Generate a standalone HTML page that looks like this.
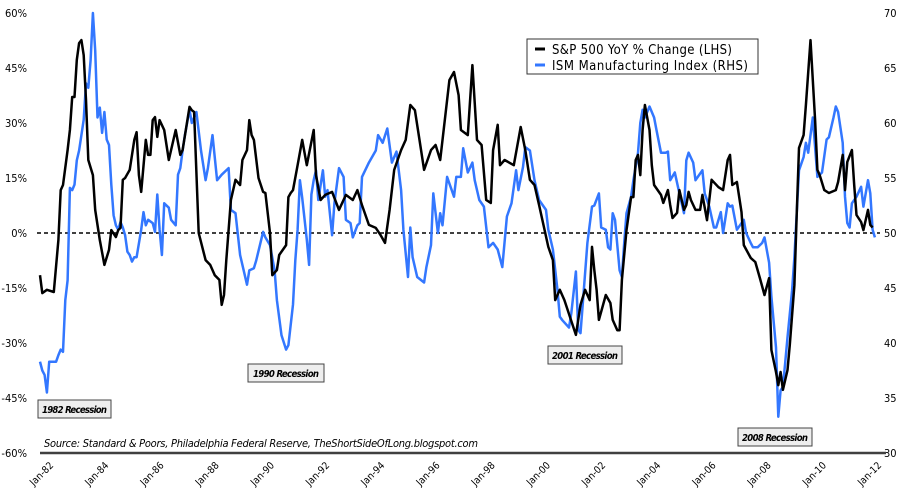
<!DOCTYPE html>
<html><head><meta charset="utf-8"><style>
body{margin:0;background:#fff;}
svg text{font-family:"DejaVu Sans Condensed","DejaVu Sans","Liberation Sans",sans-serif;}
</style></head><body>
<svg id="chart" width="909" height="498" viewBox="0 0 909 498" xmlns="http://www.w3.org/2000/svg">
<g id="axes"></g>
<g id="series"></g>
<g>
<rect x="527" y="39" width="231" height="35" fill="#fff" stroke="#333" stroke-width="1"/>
<line x1="535" y1="49" x2="545" y2="49" stroke="#000" stroke-width="3"/>
<text x="552" y="54" font-size="13" textLength="180">S&amp;P 500 YoY % Change (LHS)</text>
<line x1="535" y1="65" x2="545" y2="65" stroke="#3377ff" stroke-width="3"/>
<text x="552" y="70" font-size="13" textLength="196">ISM Manufacturing Index (RHS)</text>
</g>
<g font-size="9.5" font-style="italic" font-weight="bold">
<g><rect x="38" y="400" width="73" height="18" fill="#eee" stroke="#444"/><text x="42" y="413" textLength="65">1982 Recession</text></g>
<g><rect x="248" y="364" width="76" height="18" fill="#eee" stroke="#444"/><text x="253" y="377" textLength="66">1990 Recession</text></g>
<g><rect x="548" y="346" width="74" height="18" fill="#eee" stroke="#444"/><text x="552" y="359" textLength="66">2001 Recession</text></g>
<g><rect x="738" y="428" width="74" height="18" fill="#eee" stroke="#444"/><text x="742" y="441" textLength="66">2008 Recession</text></g>
</g>
<text x="44" y="447" font-size="11" font-style="italic" textLength="434">Source: Standard &amp; Poors, Philadelphia Federal Reserve, TheShortSideOfLong.blogspot.com</text>
</svg>
<script>
const leftTicks=[60,45,30,15,0,-15,-30,-45,-60];
const leftTickLabels=["60%","45%","30%","15%","0%","-15%","-30%","-45%","-60%"];
const rightTicks=[70,65,60,55,50,45,40,35,30];
const xTickLabels=["Jan-82","Jan-84","Jan-86","Jan-88","Jan-90","Jan-92","Jan-94","Jan-96","Jan-98","Jan-00","Jan-02","Jan-04","Jan-06","Jan-08","Jan-10","Jan-12"];
const xTickMonths=[0,24,48,72,96,120,144,168,192,216,240,264,288,312,336,360];
// S&P 500 YoY % change: month index since Jan-82
const spxMonths=[0,1,3,6,8,9,10,12,13,14,15,16,17,18,19,20,21,23,24,26,28,30,31,33,34,35,36,37,39,41,42,43,44,46,47,48,49,50,51,52,54,56,59,61,62,65,66,67,69,72,74,76,78,79,80,81,83,85,87,88,90,91,92,93,95,97,98,100,101,103,104,107,108,109,110,112,114,116,119,120,122,124,127,130,133,136,138,140,143,146,148,150,152,154,157,159,161,163,165,167,170,172,174,176,178,180,182,183,186,188,190,192,194,196,197,199,200,202,206,209,211,213,215,217,221,223,224,226,228,233,235,237,239,240,241,242,243,246,248,249,251,252,253,255,257,258,259,260,261,262,263,265,266,267,270,271,273,274,275,277,278,280,281,282,283,285,287,288,290,292,295,297,299,300,301,303,305,306,309,311,313,315,317,318,320,321,322,323,325,326,328,329,330,332,333,335,337,338,339,341,343,346,347,349,350,351,353,354,355,357,358,360,361,362];
const spxValues=[-11.5,-16.4,-15.5,-16.1,-1.9,11.7,13.1,22.6,28.1,37.1,37.1,47.2,51.8,52.6,48.5,36.3,19.9,15.8,6.3,-1.9,-8.7,-4.6,0.8,-1.1,0.8,1.4,14.5,15.0,17.2,25.4,27.5,15.8,11.2,25.4,21.3,21.3,30.8,31.6,26.2,30.8,28.1,19.9,28.1,21.3,22.6,34.4,33.5,33,0,-7.4,-8.7,-11.5,-12.8,-19.6,-16.9,-7.4,9.0,14.5,13.1,19.9,22.6,30.8,26.7,25.4,15.0,11.2,10.9,0,-11.5,-10.1,-6.0,-3.3,9.8,10.9,11.7,18.5,25.4,18.5,28.1,15.8,9.0,10.4,11.2,6.3,10.4,9.0,11.7,7.6,2.2,1.4,-0.5,-2.7,6.3,17.2,22.6,25.4,34.9,33.5,25.4,17.2,22.6,24.0,19.9,30.8,41.7,43.9,37.6,28.1,26.7,45.8,25.4,24.0,9.0,8.2,22.6,29.5,18.5,19.9,18.5,28.9,22.6,14.5,13.1,7.6,-3.8,-7.4,-18.3,-15.5,-18.3,-27.8,-19.6,-15.5,-18.3,-3.8,-10.1,-15.5,-23.7,-16.9,-19.1,-23.7,-26.5,-26.5,-12.8,0.8,9.8,9.8,19.9,21.3,15.8,28.1,34.9,28.1,18.5,13.1,10.4,8.2,11.7,7.6,4.1,5.5,11.7,6.3,7.6,11.2,9.0,6.3,6.3,10.4,3.5,14.5,12.5,11.7,19.9,21.3,13.1,13.9,5.7,-3.3,-6.8,-7.9,-12.3,-16.9,-12.3,-31.9,-37.9,-41.5,-37.9,-42.8,-37.4,-30.5,-14.2,4.9,23.2,26.7,34.9,52.6,30.8,17.2,15.8,11.7,10.9,11.7,13.9,21.3,11.7,19.4,22.6,13.1,4.9,3.0,0.8,6.3,2.2,1.5];
// ISM Manufacturing index
const ismMonths=[0,1,2,3,4,7,8,9,10,11,12,13,14,15,16,17,19,20,21,22,23,24,25,26,27,28,29,30,31,32,33,34,35,36,37,38,39,40,41,42,44,45,46,47,49,50,51,52,53,54,56,57,59,60,61,62,63,65,66,68,70,72,73,75,77,79,82,83,85,87,90,91,93,94,97,98,100,102,103,105,107,108,110,111,112,113,114,116,117,118,119,120,121,123,124,125,127,128,130,132,133,135,136,138,139,140,143,146,147,149,151,153,155,157,158,160,161,162,164,167,168,170,171,173,174,175,177,178,180,181,183,184,186,188,189,191,193,195,197,199,201,203,205,207,208,210,211,213,215,217,220,221,223,225,226,227,230,231,233,234,235,236,238,240,241,243,244,246,247,248,249,250,252,253,254,255,257,258,260,261,262,263,265,267,268,270,272,273,274,276,278,280,281,282,284,285,286,288,289,291,293,294,296,297,299,300,301,303,306,307,309,310,312,314,315,317,318,320,321,322,323,324,325,327,328,330,332,333,334,336,337,338,340,342,343,345,346,347,349,350,351,352,353,355,357,358,360,361,362,363];
const ismValues=[38.3,37.5,37.1,35.5,38.3,38.3,38.9,39.4,39.2,43.9,45.7,54.1,53.9,54.4,56.6,57.5,60.3,63.6,63.2,65.7,70,66.6,60.5,61.4,59.1,61.0,58.5,58.0,54.4,51.6,50.7,50.3,51.0,50.5,49.8,48.3,48.0,47.4,47.8,47.8,50.3,51.9,50.7,51.2,50.9,50.1,53.5,50.3,48.0,52.7,52.3,51.2,50.7,55.3,55.9,57.5,58.9,61.2,60.0,61.0,57.5,54.8,55.9,58.9,54.8,55.3,55.9,52.1,51.8,48.0,45.3,46.6,46.8,47.5,50.1,49.6,48.9,46.6,43.9,40.7,39.4,39.8,43.5,47.5,50.3,54.8,53.2,49.4,47.1,53.5,54.8,55.7,53.0,55.7,53.3,53.9,49.8,52.7,55.9,55.1,51.2,50.9,49.6,50.7,50.9,55.1,56.4,57.5,58.9,58.2,59.5,56.4,57.4,53.9,50.3,46.0,50.5,47.8,46.0,45.5,46.9,48.9,53.6,50.0,51.8,50.7,55.1,54.5,53.3,55.1,55.1,57.7,55.5,56.4,54.8,53.0,52.4,48.7,49.1,48.5,46.9,51.5,52.7,55.7,53.9,56.0,57.8,57.5,54.8,53.0,52.1,50.3,48.5,44.8,42.4,42.1,41.4,42.7,46.5,41.2,40.9,43.6,49.1,52.4,52.5,53.6,50.5,50.3,48.7,48.5,51.8,51.2,46.6,46.0,49.1,51.8,53.3,54.8,57.3,60.0,61.2,60.5,61.5,60.5,59.4,57.3,57.3,57.4,54.8,55.5,53.6,51.8,56.6,57.3,56.4,54.8,55.1,55.7,53.6,52.4,50.5,50.5,51.9,50.0,52.7,52.4,52.5,50.3,51.2,50.0,49.1,48.7,48.7,49.1,49.6,47.3,44.2,39.6,33.3,35.7,36.0,38.2,40.5,44.8,47.8,55.7,56.9,58.2,57.3,60.5,57.8,55.1,55.5,58.5,58.7,60.5,61.5,61.0,58.2,53.3,50.9,50.5,52.7,53.3,54.2,52.4,54.8,53.6,50.3,49.6];

const SVGNS="http://www.w3.org/2000/svg";
const X0=40, PXM=2.3, Y0=233;
function xScale(m){return X0+m*PXM;}
function yLeft(v){return Y0-v*55/15;}
function yRight(v){return Y0-(v-50)*11;}
function mk(tag,attrs,parent){const e=document.createElementNS(SVGNS,tag);for(const k in attrs)e.setAttribute(k,attrs[k]);parent.appendChild(e);return e;}
const axes=document.getElementById('axes');
const series=document.getElementById('series');

leftTicks.forEach((v,i)=>{
  const t=mk('text',{x:27,y:yLeft(v)+4,'font-size':11,'text-anchor':'end'},axes);
  
  
  t.textContent=leftTickLabels[i];
});
rightTicks.forEach(v=>{
  const t=mk('text',{x:884,y:yRight(v)+4,'font-size':11},axes);
  
  
  t.textContent=String(v);
});
const zl=mk('line',{x1:37,y1:yLeft(0),x2:880,y2:yLeft(0),stroke:'#000','stroke-width':1.5,'stroke-dasharray':'4,3'},axes);


const xa=mk('line',{x1:40,y1:yLeft(-60),x2:886,y2:yLeft(-60),stroke:'#404040','stroke-width':2.5},axes);


xTickLabels.forEach((lab,i)=>{
  const x=xScale(xTickMonths[i])+14, y=yLeft(-60)+13;
  const t=mk('text',{x:x,y:y,'font-size':10,'text-anchor':'end',transform:`rotate(-45 ${x} ${y})`},axes);
  
  
  t.textContent=lab;
});
function path(ms,vs,ys){return ms.map((m,i)=>(i?'L':'M')+xScale(m).toFixed(1)+' '+ys(vs[i]).toFixed(1)).join(' ');}
const ism=mk('path',{d:path(ismMonths,ismValues,yRight),fill:'none',stroke:'#3377ff','stroke-width':2.5,'stroke-linejoin':'round'},series);


const spx=mk('path',{d:path(spxMonths,spxValues,yLeft),fill:'none',stroke:'#000','stroke-width':2.5,'stroke-linejoin':'round'},series);


</script>
</body></html>
